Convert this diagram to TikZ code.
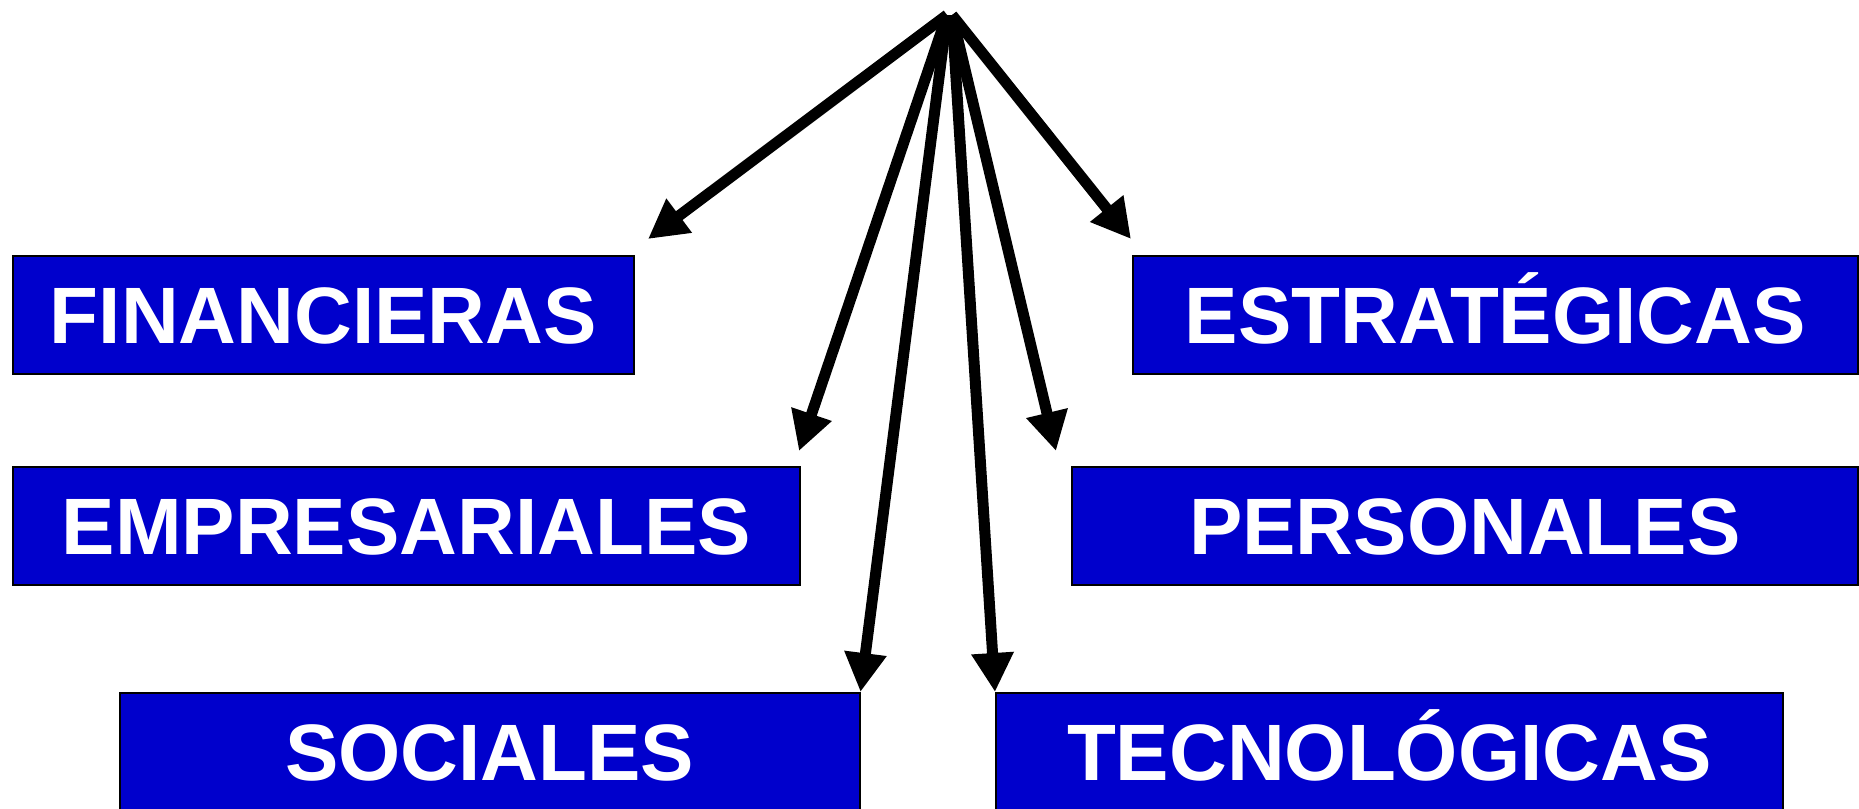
\documentclass[tikz,border=0pt]{standalone}
\usepackage{fontspec}
\setmainfont{Liberation Sans}
\usetikzlibrary{arrows.meta}
\definecolor{boxblue}{RGB}{0,0,204}
\begin{document}
\begin{tikzpicture}[x=1pt,y=-1pt,
  catbox/.style={draw=black,line width=1.5pt,fill=boxblue,text=white,
    font=\fontsize{80}{96}\selectfont\bfseries,inner sep=0pt,
    text height=57pt,text depth=0pt,anchor=north west},
  arr/.style={line width=11pt,-{Triangle[length=39pt,width=40pt]}}]
\useasboundingbox (0,0) rectangle (1859,808);
\clip (0,0) rectangle (1859,808);
\node[catbox,minimum width=621pt,minimum height=118pt] (fin) at (12,255) {FINANCIERAS};
\node[catbox,minimum width=725pt,minimum height=118pt] (est) at (1132,255) {ESTRATÉGICAS};
\node[catbox,minimum width=787pt,minimum height=118pt] (emp) at (12,466) {EMPRESARIALES};
\node[catbox,minimum width=786pt,minimum height=118pt] (per) at (1071,466) {PERSONALES};
\node[catbox,minimum width=740pt,minimum height=118pt] (soc) at (119,692) {SOCIALES};
\node[catbox,minimum width=787pt,minimum height=118pt] (tec) at (995,692) {TECNOLÓGICAS};
\coordinate (apexL) at (947,15);
\coordinate (apexR) at (952,15);
\coordinate (tfin) at (648,239);
\coordinate (temp) at (799,451);
\coordinate (tper) at (1056,451);
\coordinate (test) at (1131,239);
\draw[arr] (apexL) -- (tfin);
\draw[arr] (apexL) -- (temp);
\draw[arr] (apexL) -- (soc.north east);
\draw[arr] (apexR) -- (tec.north west);
\draw[arr] (apexR) -- (tper);
\draw[arr] (apexR) -- (test);
\end{tikzpicture}
\end{document}
